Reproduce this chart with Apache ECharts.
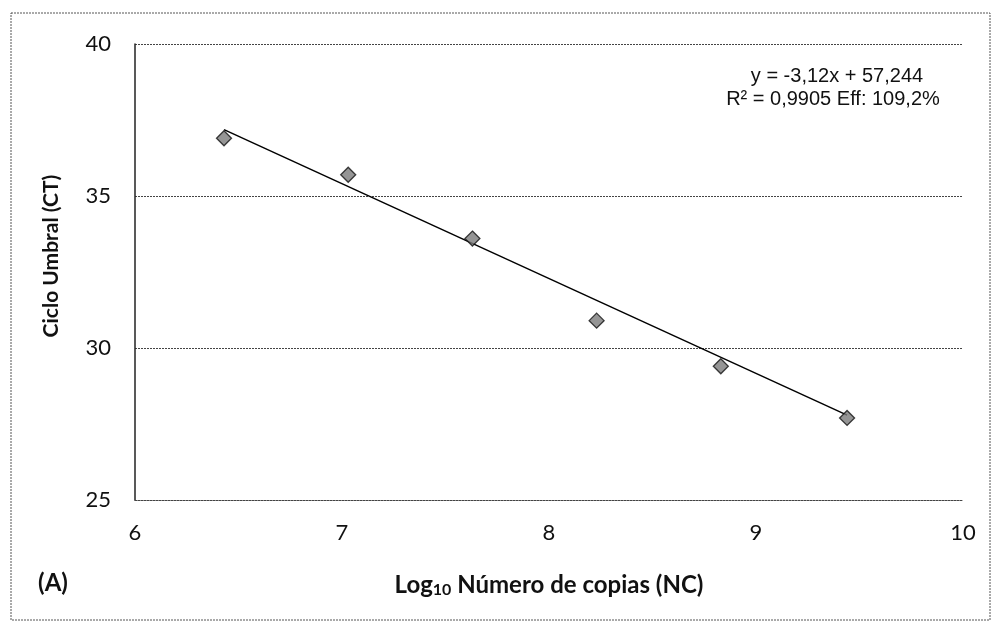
<!DOCTYPE html>
<html>
<head>
<meta charset="utf-8">
<script src="https://cdn.jsdelivr.net/npm/echarts@6/dist/echarts.min.js"></script>
<style>html,body{margin:0;padding:0;background:#fff}#c{width:993px;height:625px}</style>
</head>
<body>
<div id="c"></div>
<script>
// Data
var logCopies = [6.43, 7.03, 7.63, 8.23, 8.83, 9.44];
var ctValues = [36.9, 35.7, 33.6, 30.9, 29.4, 27.7];
var trendSlope = -3.12;
var trendIntercept = 57.244;
var xTicks = [6, 7, 8, 9, 10];
var yTicks = [25, 30, 35, 40];
var eqLine1 = 'y = -3,12x + 57,244';
var eqLine2 = 'R² = 0,9905 Eff: 109,2%';
var yTitle = 'Ciclo Umbral (CT)';

var pts = logCopies.map(function (x, i) { return [x, ctValues[i]]; });
var xMin = Math.min.apply(null, logCopies), xMax = Math.max.apply(null, logCopies);
var trend = [[xMin, trendSlope * xMin + trendIntercept], [xMax, trendSlope * xMax + trendIntercept]];

var chart = echarts.init(document.getElementById('c'), null, {renderer: 'canvas'});
var font = 'Lato, "Open Sans", sans-serif';
chart.setOption({
  animation: false,
  backgroundColor: '#fff',
  grid: {left: 135, right: 30, top: 44, bottom: 125},
  xAxis: {
    type: 'value', min: xTicks[0], max: xTicks[xTicks.length - 1], interval: 1,
    axisLine: {show: true, lineStyle: {color: '#444', type: [2, 1], width: 1}},
    axisTick: {show: false},
    splitLine: {show: false},
    axisLabel: {color: '#111', fontSize: 22, fontFamily: font, margin: 22},
    name: '{a|Log}{s|10}{a| Número de copias (NC)}',
    nameLocation: 'middle', nameGap: 72,
    nameTextStyle: {
      rich: {
        a: {fontSize: 24, fontWeight: 'bold', fontFamily: font, color: '#111'},
        s: {fontSize: 16, fontWeight: 'bold', fontFamily: font, color: '#111', verticalAlign: 'bottom', padding: [10, 0, 0, 0]}
      }
    }
  },
  yAxis: {
    type: 'value', min: yTicks[0], max: yTicks[yTicks.length - 1], interval: 5,
    axisLine: {show: true, lineStyle: {color: '#222', width: 1.5}},
    axisTick: {show: false},
    splitLine: {show: true, lineStyle: {color: '#444', type: [2, 1], width: 1}},
    axisLabel: {color: '#111', fontSize: 22, fontFamily: font, margin: 24}
  },
  series: [
    {
      type: 'line', data: trend, symbol: 'none',
      lineStyle: {color: '#000', width: 1.5}, z: 2
    },
    {
      type: 'scatter', data: pts, symbol: 'diamond', symbolSize: 15,
      itemStyle: {color: '#7a7a7a', borderColor: '#111', borderWidth: 1.3}, z: 3
    }
  ],
  graphic: [
    {type: 'rect', shape: {x: 11, y: 13, width: 979, height: 607}, silent: true,
     style: {fill: 'none', stroke: '#555', lineWidth: 1, lineDash: [2, 1]}},
    {type: 'text', x: 51, y: 256, rotation: Math.PI / 2,
     style: {text: yTitle, font: 'bold 21px Lato, "Open Sans", sans-serif', fill: '#111', textAlign: 'center', textVerticalAlign: 'middle'}},
    {type: 'text', x: 837, y: 76, style: {text: eqLine1, font: '20px "Liberation Sans", Arial, sans-serif', fill: '#111', textAlign: 'center', textVerticalAlign: 'middle'}},
    {type: 'text', x: 833, y: 99, style: {text: eqLine2, font: '20px "Liberation Sans", Arial, sans-serif', fill: '#111', textAlign: 'center', textVerticalAlign: 'middle'}},
    {type: 'text', x: 53, y: 583, style: {text: '(A)', font: 'bold 24px Lato, "Open Sans", sans-serif', fill: '#111', textAlign: 'center', textVerticalAlign: 'middle'}}
  ]
});
</script>
</body>
</html>
